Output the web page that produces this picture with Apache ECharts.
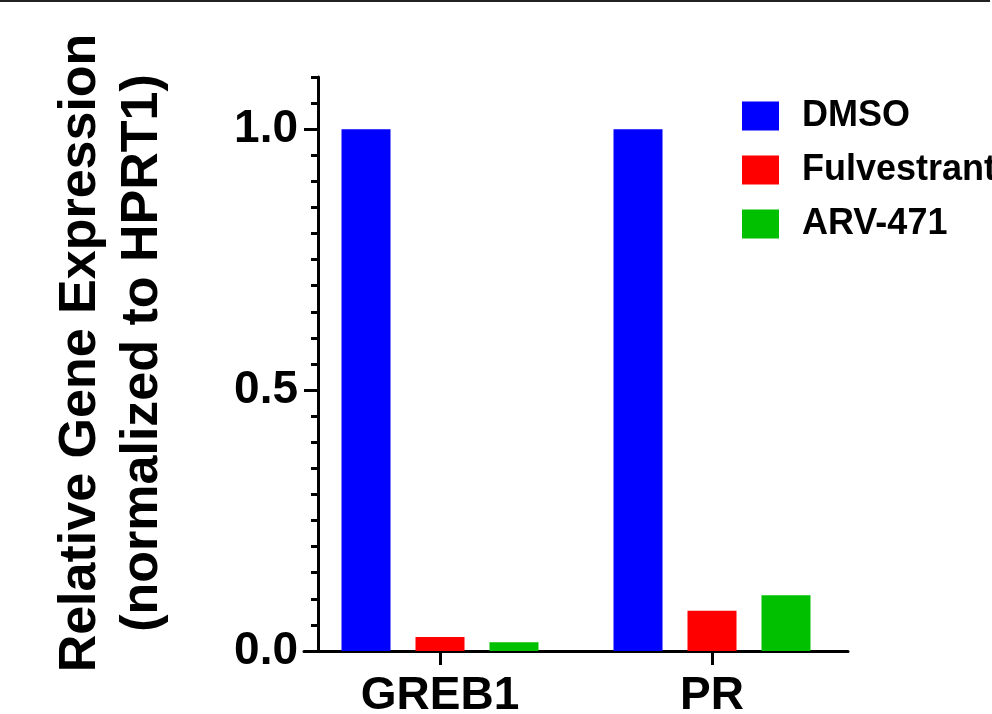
<!DOCTYPE html>
<html>
<head>
<meta charset="utf-8">
<title>Relative Gene Expression</title>
<script src="https://cdn.jsdelivr.net/npm/echarts@6/dist/echarts.min.js"></script>
<style>
    html, body { margin: 0; padding: 0; background: #fff; }
    #geneChart { width: 992px; height: 714px; }
</style>
</head>
<body>
<div id="geneChart"></div>
<script>
// data
var categories = ['GREB1', 'PR'];
var seriesNames = ['DMSO', 'Fulvestrant', 'ARV-471'];
var dmsoValues = [1.0, 1.0];
var fulvestrantValues = [0.027, 0.077];
var arvValues = [0.017, 0.107];
var majorTickValues = [0, 0.5, 1.0];

var fontName = '"Liberation Sans", Arial, sans-serif';

var myChart = echarts.init(document.getElementById('geneChart'));

var option = {
    backgroundColor: '#fff',
    animation: false,
    textStyle: { fontFamily: fontName },
    // thin frame line along the top
    graphic: [{
        type: 'rect',
        shape: { x: 0, y: 0, width: 990, height: 2 },
        style: { fill: '#222' }
    }],
    grid: {
        left: 304,
        width: 544,
        top: 77,
        bottom: 63,
        outerBoundsMode: 'none'
    },
    legend: {
        orient: 'vertical',
        left: 742,
        top: 98,
        padding: 0,
        icon: 'rect',
        itemWidth: 37,
        itemHeight: 29,
        itemGap: 18,
        data: seriesNames,
        textStyle: {
            color: '#000',
            fontSize: 36,
            fontWeight: 'bold',
            fontFamily: fontName,
            lineHeight: 29,
            padding: [0, 0, 0, 18]
        }
    },
    xAxis: {
        type: 'category',
        data: categories,
        axisLine: { lineStyle: { color: '#000', width: 3 } },
        axisTick: {
            show: true,
            alignWithLabel: true,
            length: 14,
            lineStyle: { color: '#000', width: 3 }
        },
        axisLabel: {
            color: '#000',
            fontSize: 46,
            fontWeight: 'bold',
            fontFamily: fontName,
            margin: 22
        }
    },
    yAxis: [{
        //minor ticks every 0.05
        type: 'value',
        min: 0,
        max: 1.1,
        interval: 0.05,
        offset: -14,
        splitLine: { show: false },
        axisLine: { show: true, lineStyle: { color: '#000', width: 3 } },
        axisTick: { show: true, length: 7, lineStyle: { color: '#000', width: 3 } },
        axisLabel: { show: false },
        name: 'Relative Gene Expression\n(normalized to HPRT1)',
        nameLocation: 'middle',
        nameGap: 144,
        nameTextStyle: {
            color: '#000',
            fontSize: 52,
            fontWeight: 'bold',
            fontFamily: fontName,
            lineHeight: 62,
            padding: [0, 0, 0, 22]
        }
    }, {
        //long ticks + labels at 0, 0.5, 1.0
        type: 'value',
        position: 'left',
        min: 0,
        max: 1.1,
        offset: -14,
        splitLine: { show: false },
        axisLine: { show: false },
        axisTick: {
            show: true,
            length: 14,
            customValues: majorTickValues,
            lineStyle: { color: '#000', width: 3 }
        },
        axisLabel: {
            color: '#000',
            fontSize: 46,
            fontWeight: 'bold',
            fontFamily: fontName,
            margin: 20,
            customValues: majorTickValues,
            formatter: function (v) { return v.toFixed(1); }
        }
    }],
    series: [{
        name: seriesNames[0],
        type: 'bar',
        yAxisIndex: 0,
        barWidth: 49,
        barGap: '51%',
        itemStyle: { color: '#0000ff' },
        data: dmsoValues
    }, {
        name: seriesNames[1],
        type: 'bar',
        yAxisIndex: 0,
        barWidth: 49,
        barGap: '51%',
        itemStyle: { color: '#ff0000' },
        data: fulvestrantValues
    }, {
        name: seriesNames[2],
        type: 'bar',
        yAxisIndex: 0,
        barWidth: 49,
        barGap: '51%',
        itemStyle: { color: '#00c000' },
        data: arvValues
    }]
};

myChart.setOption(option);
</script>
</body>
</html>
